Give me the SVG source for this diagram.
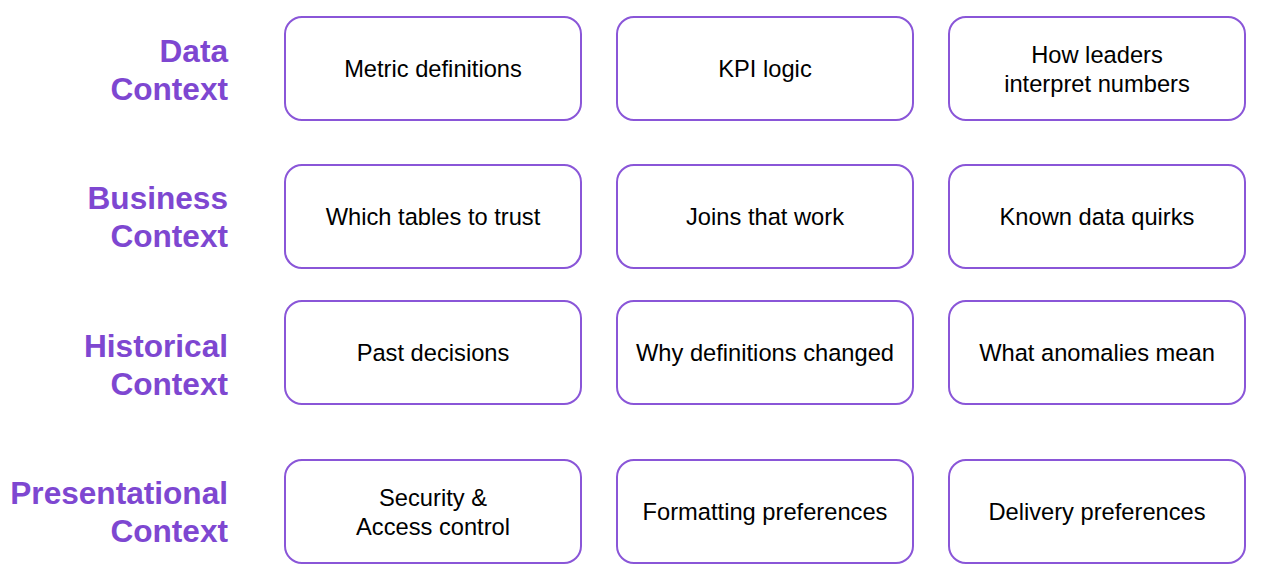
<svg xmlns="http://www.w3.org/2000/svg" width="1273" height="582" viewBox="0 0 1273 582">
<style>
.lbl{font-family:"Liberation Sans",Arial,sans-serif;font-weight:bold;font-size:31.6px;fill:#7e47d1;text-anchor:end}
.box{fill:#ffffff;stroke:#8a56d8;stroke-width:2}
.t{font-family:"Liberation Sans",Arial,sans-serif;font-size:23.7px;fill:#000;text-anchor:middle}
</style>
<rect width="1273" height="582" fill="#ffffff"/>
<g id="label-data"><text class="lbl" x="228" y="62">Data</text><text class="lbl" x="228" y="100">Context</text></g>
<g id="label-business"><text class="lbl" x="228" y="209">Business</text><text class="lbl" x="228" y="247">Context</text></g>
<g id="label-historical"><text class="lbl" x="228" y="357">Historical</text><text class="lbl" x="228" y="395">Context</text></g>
<g id="label-presentational"><text class="lbl" x="228" y="504">Presentational</text><text class="lbl" x="228" y="542">Context</text></g>

<g id="n-metric"><rect class="box" x="285" y="17" width="296" height="103" rx="17"/><text class="t" x="433" y="77">Metric definitions</text></g>
<g id="n-kpi"><rect class="box" x="617" y="17" width="296" height="103" rx="17"/><text class="t" x="765" y="77">KPI logic</text></g>
<g id="n-leaders"><rect class="box" x="949" y="17" width="296" height="103" rx="17"/><text class="t" x="1097" y="63">How leaders</text><text class="t" x="1097" y="92">interpret numbers</text></g>

<g id="n-tables"><rect class="box" x="285" y="165" width="296" height="103" rx="17"/><text class="t" x="433" y="225">Which tables to trust</text></g>
<g id="n-joins"><rect class="box" x="617" y="165" width="296" height="103" rx="17"/><text class="t" x="765" y="225">Joins that work</text></g>
<g id="n-quirks"><rect class="box" x="949" y="165" width="296" height="103" rx="17"/><text class="t" x="1097" y="225">Known data quirks</text></g>

<g id="n-past"><rect class="box" x="285" y="301" width="296" height="103" rx="17"/><text class="t" x="433" y="361">Past decisions</text></g>
<g id="n-why"><rect class="box" x="617" y="301" width="296" height="103" rx="17"/><text class="t" x="765" y="361">Why definitions changed</text></g>
<g id="n-anomalies"><rect class="box" x="949" y="301" width="296" height="103" rx="17"/><text class="t" x="1097" y="361">What anomalies mean</text></g>

<g id="n-security"><rect class="box" x="285" y="460" width="296" height="103" rx="17"/><text class="t" x="433" y="506">Security &amp;</text><text class="t" x="433" y="535">Access control</text></g>
<g id="n-formatting"><rect class="box" x="617" y="460" width="296" height="103" rx="17"/><text class="t" x="765" y="520">Formatting preferences</text></g>
<g id="n-delivery"><rect class="box" x="949" y="460" width="296" height="103" rx="17"/><text class="t" x="1097" y="520">Delivery preferences</text></g>

<g id="connectors"></g>
</svg>
